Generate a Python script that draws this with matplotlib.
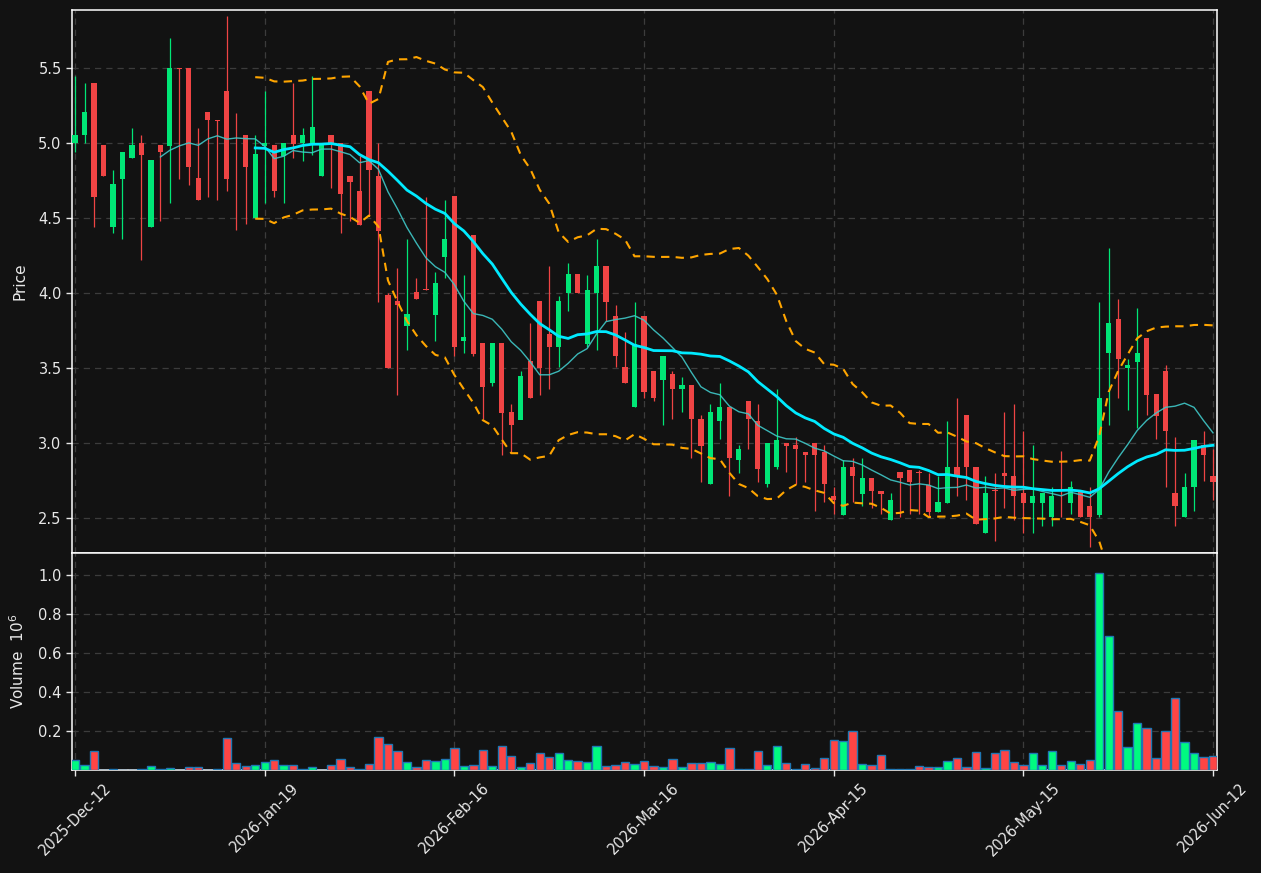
import numpy as np
import pandas as pd
import matplotlib
matplotlib.use("Agg")
import matplotlib.pyplot as plt

opens = [5.000, 5.051, 5.403, 4.984, 4.438, 4.759, 4.898, 5.002, 4.438, 4.984,
         4.979, 5.502, 5.502, 4.764, 5.204, 5.155, 5.350, 5.000, 5.056, 4.500,
         4.981, 4.984, 4.917, 5.056, 5.000, 5.000, 4.778, 5.056, 5.002, 4.782,
         4.683, 5.350, 4.782, 3.986, 3.949, 3.780, 4.005, 4.023, 3.856, 4.238,
         4.644, 3.678, 4.384, 3.664, 3.398, 3.664, 3.208, 3.157, 3.546, 3.944,
         3.725, 3.639, 3.998, 4.125, 3.660, 3.998, 4.183, 3.845, 3.505, 3.243,
         3.845, 3.481, 3.421, 3.463, 3.361, 3.384, 3.162, 2.725, 3.144, 3.243,
         2.884, 3.282, 3.144, 2.725, 2.840, 3.000, 2.984, 2.942, 3.000, 2.942,
         2.644, 2.521, 2.843, 2.662, 2.764, 2.683, 2.484, 2.806, 2.822, 2.805,
         2.722, 2.542, 2.602, 2.843, 3.185, 2.843, 2.403, 2.684, 2.803, 2.782,
         2.667, 2.602, 2.602, 2.505, 2.690, 2.602, 2.683, 2.583, 2.521, 3.602,
         3.824, 3.500, 3.542, 3.701, 3.324, 3.481, 2.664, 2.505, 2.704, 2.984,
         2.782]
highs = [5.449, 5.400, 5.403, 4.984, 4.822, 4.942, 5.102, 5.053, 4.884, 4.984,
         5.699, 5.502, 5.502, 5.102, 5.204, 5.155, 5.847, 5.201, 5.056, 5.056,
         5.345, 4.984, 5.002, 5.400, 5.102, 5.449, 5.000, 5.056, 5.002, 4.782,
         4.917, 5.350, 5.002, 4.002, 4.164, 4.361, 4.102, 4.639, 4.141, 4.620,
         4.644, 4.123, 4.384, 3.664, 3.664, 3.664, 3.262, 3.481, 3.801, 3.944,
         4.181, 3.979, 4.199, 4.125, 4.123, 4.361, 4.183, 3.921, 3.743, 3.940,
         3.845, 3.481, 3.583, 3.481, 3.442, 3.384, 3.185, 3.262, 3.400, 3.243,
         2.984, 3.282, 3.262, 3.000, 3.363, 3.000, 3.042, 2.942, 3.000, 2.984,
         2.704, 2.884, 2.903, 2.903, 2.764, 2.683, 2.667, 2.806, 2.822, 2.822,
         2.803, 2.782, 3.144, 3.303, 3.185, 2.843, 2.782, 2.803, 3.204, 3.262,
         3.081, 2.984, 2.667, 2.704, 2.944, 2.745, 2.683, 2.704, 3.940, 4.301,
         3.963, 3.560, 3.903, 3.701, 3.324, 3.523, 3.042, 2.803, 3.023, 3.083,
         2.963]
lows = [4.940, 5.000, 4.442, 4.780, 4.403, 4.361, 4.898, 4.222, 4.438, 4.481,
        4.602, 4.762, 4.720, 4.618, 4.639, 4.620, 4.681, 4.421, 4.458, 4.500,
        4.602, 4.639, 4.602, 4.900, 4.880, 4.921, 4.778, 4.701, 4.403, 4.481,
        4.456, 4.523, 3.940, 3.500, 3.319, 3.620, 3.958, 4.021, 3.678, 4.102,
        3.579, 3.602, 3.579, 3.162, 3.382, 2.921, 2.937, 3.157, 3.301, 3.319,
        3.361, 3.505, 3.880, 3.998, 3.639, 3.620, 3.813, 3.505, 3.398, 3.243,
        3.303, 3.282, 3.123, 3.162, 3.204, 2.903, 2.741, 2.725, 3.025, 2.644,
        2.803, 2.963, 2.741, 2.704, 2.824, 2.806, 2.725, 2.741, 2.546, 2.604,
        2.525, 2.521, 2.606, 2.583, 2.565, 2.525, 2.484, 2.505, 2.525, 2.525,
        2.505, 2.542, 2.602, 2.644, 2.623, 2.463, 2.403, 2.347, 2.565, 2.486,
        2.403, 2.403, 2.444, 2.444, 2.505, 2.525, 2.505, 2.306, 2.505, 3.123,
        3.303, 3.222, 3.102, 3.185, 3.025, 2.704, 2.444, 2.505, 2.544, 2.745,
        2.623]
closes = [5.056, 5.204, 4.639, 4.780, 4.725, 4.942, 4.984, 4.919, 4.884, 4.940,
          5.502, 5.497, 4.838, 4.618, 5.153, 5.150, 4.759, 4.998, 4.838, 4.924,
          5.002, 4.678, 5.002, 4.995, 5.056, 5.104, 5.000, 5.000, 4.660, 4.738,
          4.456, 4.819, 4.417, 3.500, 3.919, 3.863, 3.958, 4.021, 4.065, 4.363,
          3.639, 3.706, 3.597, 3.377, 3.664, 3.199, 3.120, 3.447, 3.301, 3.500,
          3.639, 3.944, 4.125, 3.998, 4.023, 4.183, 3.938, 3.581, 3.398, 3.660,
          3.340, 3.301, 3.583, 3.361, 3.384, 3.162, 2.981, 3.204, 3.243, 2.903,
          2.963, 3.162, 2.824, 3.000, 3.023, 2.981, 2.961, 2.921, 2.921, 2.725,
          2.620, 2.843, 2.782, 2.764, 2.681, 2.662, 2.623, 2.764, 2.741, 2.801,
          2.542, 2.606, 2.843, 2.782, 2.840, 2.463, 2.667, 2.681, 2.782, 2.644,
          2.602, 2.644, 2.667, 2.644, 2.686, 2.704, 2.505, 2.505, 3.303, 3.801,
          3.560, 3.523, 3.602, 3.319, 3.181, 3.083, 2.583, 2.704, 3.023, 2.921,
          2.741]
volumes = [0.051, 0.024, 0.097, 0.001, 0.004, 0.0005, 0.0005, 0.004, 0.019, 0.004,
           0.010, 0.001, 0.014, 0.014, 0.001, 0.004, 0.162, 0.036, 0.019, 0.024,
           0.041, 0.050, 0.024, 0.024, 0.004, 0.014, 0.001, 0.024, 0.056, 0.014,
           0.004, 0.031, 0.169, 0.133, 0.097, 0.041, 0.014, 0.050, 0.044, 0.056,
           0.113, 0.019, 0.026, 0.103, 0.019, 0.123, 0.072, 0.014, 0.036, 0.087,
           0.067, 0.087, 0.051, 0.046, 0.041, 0.123, 0.019, 0.026, 0.041, 0.031,
           0.046, 0.019, 0.014, 0.056, 0.014, 0.036, 0.036, 0.041, 0.031, 0.113,
           0.004, 0.003, 0.097, 0.024, 0.123, 0.036, 0.004, 0.031, 0.010, 0.062,
           0.154, 0.149, 0.200, 0.031, 0.026, 0.077, 0.004, 0.003, 0.003, 0.019,
           0.014, 0.014, 0.046, 0.062, 0.014, 0.092, 0.010, 0.087, 0.103, 0.041,
           0.026, 0.087, 0.024, 0.097, 0.026, 0.046, 0.031, 0.051, 1.010, 0.687,
           0.303, 0.118, 0.241, 0.215, 0.062, 0.200, 0.369, 0.144, 0.087, 0.067,
           0.072]
tick_pos = [0, 20, 40, 60, 80, 100, 120]
tick_labels = ["2025-Dec-12", "2026-Jan-19", "2026-Feb-16", "2026-Mar-16",
               "2026-Apr-15", "2026-May-15", "2026-Jun-12"]

BG = "#121212"
UP = "#00e676"
DOWN = "#ef4444"
VUP = "#00fa80"
VDOWN = "#ff4545"
GRID = "#3c3c3c"
TXT = "#e8e8e8"

o = np.array(opens); h = np.array(highs); l = np.array(lows); c = np.array(closes)
v = np.array(volumes)
x = np.arange(len(c))
up = c >= o

cs = pd.Series(c)
ma10 = cs.rolling(10).mean()
ma20 = cs.rolling(20).mean()
sd20 = cs.rolling(20).std(ddof=0)
bb_up = ma20 + 2 * sd20
bb_lo = ma20 - 2 * sd20

fig = plt.figure(figsize=(12.61, 8.73), dpi=100, facecolor=BG)
L, W = 72 / 1261, (1217 - 72) / 1261
ax = fig.add_axes([L, (873 - 553) / 873, W, (553 - 10) / 873], facecolor=BG)
axv = fig.add_axes([L, (873 - 770) / 873, W, (770 - 553) / 873], facecolor=BG, sharex=ax)

for a in (ax, axv):
    a.grid(True, color=GRID, linestyle=(0, (5, 4)), linewidth=0.9)
    a.set_axisbelow(True)
    for s in a.spines.values():
        s.set_color("white")
        s.set_linewidth(1.1)
    a.tick_params(colors=TXT, labelsize=10.5, length=4, width=1)

# candles
col = np.where(up, UP, DOWN)
ax.vlines(x, l, h, colors=col, linewidth=0.9, zorder=2)
body_lo = np.minimum(o, c)
body_h = np.maximum(np.abs(c - o), 0.004)
ax.bar(x, body_h, bottom=body_lo, width=0.55, color=col, linewidth=0, zorder=3)

# overlays
ax.plot(x, ma10, color="#3fc8c8", linewidth=1.0, alpha=0.9, zorder=4)
ax.plot(x, ma20, color="#00eaff", linewidth=2.0, zorder=5)
ax.plot(x, bb_up, color="#ffa500", linewidth=1.5, linestyle=(0, (4, 3)), zorder=4)
ax.plot(x, bb_lo, color="#ffa500", linewidth=1.5, linestyle=(0, (4, 3)), zorder=4)

ax.set_ylim(2.267, 5.887)
ax.set_yticks([2.5, 3.0, 3.5, 4.0, 4.5, 5.0, 5.5])
ax.set_ylabel("Price", color=TXT, fontsize=11, labelpad=8)
ax.tick_params(axis="x", labelbottom=False, length=0)

# volume
vcol = np.where(up, VUP, VDOWN)
axv.bar(x, v, width=0.88, color=vcol, edgecolor="#1f77b4", linewidth=1.0, zorder=3)
axv.set_ylim(0, 1.111)
axv.set_yticks([0.2, 0.4, 0.6, 0.8, 1.0])
axv.set_ylabel("Volume  $10^6$", color=TXT, fontsize=11, labelpad=8)

axv.set_xlim(-0.32, 120.42)
axv.set_xticks(tick_pos)
axv.set_xticklabels(tick_labels, rotation=45, ha="center", color=TXT, fontsize=10.5)

fig.savefig("out.png", dpi=100, facecolor=BG)
